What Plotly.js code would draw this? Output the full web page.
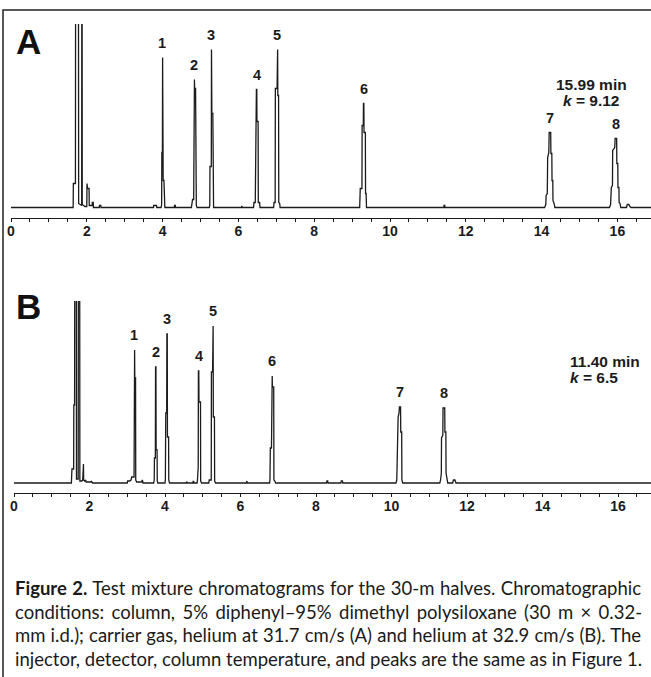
<!DOCTYPE html>
<html>
<head>
<meta charset="utf-8">
<script src="https://cdn.plot.ly/plotly-3.0.1.min.js"></script>
<style>
  html, body { margin: 0; padding: 0; background: #fff; }
  #chart { width: 651px; height: 677px; }
</style>
</head>
<body>
<div id="chart"></div>
<script>
// ---------- Data ----------
// Panel A (helium at 31.7 cm/s): retention time (min) and detector signal (arb. units)
const timeA = [0,1.64,1.645,1.70,1.705,1.78,1.785,1.84,1.865,1.868,1.876,1.88,1.95,2.0,2.005,2.02,2.06,2.065,2.14,2.145,2.17,2.175,2.33,2.335,2.37,2.375,
  3.76,3.765,3.84,3.845,3.96,3.975,3.98,3.995,4.0,4.015,4.035,4.045,4.06,4.31,4.315,4.335,4.34,
  4.76,4.77,4.79,4.82,4.83,4.84,4.845,4.87,4.875,4.89,4.91,
  5.23,5.245,5.25,5.285,5.29,5.30,5.325,5.33,5.345,6.08,6.09,6.10,
  6.40,6.41,6.445,6.45,6.47,6.475,6.485,6.49,6.52,6.525,6.56,6.57,
  6.93,6.94,6.97,6.975,7.02,7.025,7.035,7.04,7.06,7.065,7.09,7.10,
  9.20,9.215,9.26,9.265,9.295,9.30,9.31,9.315,9.35,9.355,9.37,9.38,11.42,11.425,11.445,11.45,
  14.08,14.11,14.12,14.15,14.16,14.19,14.20,14.24,14.245,14.27,14.275,14.295,14.30,14.33,14.35,
  15.79,15.82,15.84,15.87,15.875,15.93,15.94,15.98,15.985,16.01,16.015,16.04,16.045,16.07,16.09,
  16.24,16.26,16.30,16.33,16.36,16.95];
const signalA = [0,0,24,24,240,240,4,2,2,240,240,3,1,1,24,19,19,2,2,5,5,0,0,2,2,0,
  0,2,2,0,0,3,55,55,150,27,27,2,0,0,2,2,0,
  0,2,8,8,128,128,119,119,5,2,0,
  0,2,41,41,158,94,94,2,0,0,1.5,0,
  0,5,5,50,50,118,118,86,86,5,5,0,
  0,5,5,119,119,158,158,112,112,5,4,0,
  0,19,19,82,82,104,104,75,75,14,14,0,0,2,2,0,
  0,3,12,14,50,55,75,75,54,54,27,27,7,4,0,
  0,3,20,22,57,60,69,69,44,44,20,20,5,4,0,
  0,3,3,1,0,0];

// Panel B (helium at 32.9 cm/s)
const timeB = [0,1.52,1.535,1.58,1.585,1.605,1.61,1.65,1.655,1.70,1.705,1.74,1.745,1.80,1.82,1.825,1.84,1.845,1.87,1.90,1.91,2.04,2.05,2.08,
  3.00,3.01,3.06,3.10,3.12,3.18,3.185,3.195,3.20,3.22,3.225,3.25,3.38,3.40,3.42,
  3.70,3.715,3.72,3.745,3.75,3.76,3.765,3.79,3.795,3.81,
  4.00,4.01,4.02,4.045,4.05,4.06,4.065,4.095,4.10,4.12,
  4.56,4.565,4.58,4.585,4.74,4.745,4.76,4.765,
  4.85,4.86,4.865,4.88,4.885,4.895,4.90,4.94,4.945,4.97,
  5.16,5.17,5.225,5.23,5.26,5.265,5.275,5.28,5.31,5.315,5.34,
  6.15,6.155,6.17,6.175,
  6.77,6.78,6.79,6.82,6.825,6.84,6.845,6.88,6.885,6.91,6.93,
  8.28,8.29,8.31,8.32,8.66,8.67,8.70,8.71,
  10.12,10.14,10.15,10.17,10.175,10.20,10.21,10.24,10.245,10.27,10.275,10.30,
  11.28,11.30,11.32,11.325,11.36,11.365,11.41,11.415,11.44,11.445,11.47,11.49,
  11.62,11.64,11.68,11.71,16.95];
const signalB = [0,0,14,14,78,78,240,240,4,4,240,240,2,2,3,19,19,3,2,3,1,1,2,0,
  0,2,2,3,6,6,133,133,105,105,3,1,1,3,0,
  0,3,25,25,116,116,33,33,2,0,
  0,3,70,70,149,149,46,46,3,0,
  0,1.5,1.5,0,0,1.5,1.5,0,
  0,3,16,16,112,112,81,81,2,0,
  0,3,3,111,111,157,157,66,66,2,0,
  0,2,2,0,
  0,3,35,35,107,107,96,96,3,2,0,
  0,2,2,0,0,2,2,0,
  0,3,23,25,66,70,76,76,51,51,3,0,
  0,3,10,45,48,75,75,51,51,10,5,0,
  0,3,3,0,0];

// Numbered peaks: apex time and apex signal
const peakNames = ['1','2','3','4','5','6','7','8'];
const peakTimeA = [3.995, 4.835, 5.29, 6.48, 7.03, 9.305, 14.22, 15.96];
const peakHeightA = [150, 128, 158, 118, 158, 104, 75, 69];
const peakTimeB = [3.19, 3.755, 4.055, 4.89, 5.27, 6.83, 10.225, 11.39];
const peakHeightB = [133, 116, 149, 112, 157, 107, 76, 75];

const tickValues = [0, 2, 4, 6, 8, 10, 12, 14, 16];
const lastPeakA = {time: '15.99 min', k: '9.12'};
const lastPeakB = {time: '11.40 min', k: '6.5'};

const captionLines = [
  '<b>Figure 2.</b> Test mixture chromatograms for the 30-m halves. Chromatographic',
  'conditions: column, 5% diphenyl–95% dimethyl polysiloxane (30 m × 0.32-',
  'mm i.d.); carrier gas, helium at 31.7 cm/s (A) and helium at 32.9 cm/s (B). The',
  'injector, detector, column temperature, and peaks are the same as in Figure 1.'
];

// ---------- Layout helpers ----------
const W = 651, H = 677;
const px = v => v / W;
const py = v => 1 - v / H;
const INK = '#1b1b1b';
const SANS = 'Liberation Sans, Arial, sans-serif';
const numFont = {family: SANS, size: 14.5, color: INK, weight: 'bold'};
const capFamily = 'Lato';
const capSize = 18.5;

function justify(line, target) {
  const c = document.createElement('canvas').getContext('2d');
  let width = 0;
  const parts = line.split(/(<b>.*?<\/b>)/);
  parts.forEach(p => {
    if (!p) return;
    const bold = p.startsWith('<b>');
    const t = p.replace(/<\/?b>/g, '');
    c.font = (bold ? 'bold ' : '') + capSize + 'px ' + capFamily;
    width += c.measureText(t).width;
  });
  const plain = line.replace(/<\/?b>/g, '');
  const spaces = (plain.match(/ /g) || []).length;
  let ws = spaces ? (target - width) / spaces : 0;
  if (ws < -2) ws = -2;
  return '<span style="word-spacing:' + ws.toFixed(2) + 'px">' + line + '</span>';
}

const traceStyle = {mode: 'lines', line: {color: INK, width: 1.3}, hoverinfo: 'skip', showlegend: false};
const traces = [
  Object.assign({x: timeA, y: signalA, xaxis: 'x', yaxis: 'y'}, traceStyle),
  Object.assign({x: timeB, y: signalB, xaxis: 'x2', yaxis: 'y2'}, traceStyle)
];

function xAxis(domainStart, pxPerMin) {
  return {
    domain: [px(domainStart), 1],
    range: [0, (W - domainStart) / pxPerMin],
    tickmode: 'array', tickvals: tickValues, ticktext: tickValues.map(String),
    ticks: 'outside', ticklen: 3, tickwidth: 1, tickcolor: INK,
    minor: {tick0: 0, dtick: 0.5, ticks: 'outside', ticklen: 3, tickwidth: 1, tickcolor: INK},
    showline: true, linecolor: INK, linewidth: 1.3,
    showgrid: false, zeroline: false, fixedrange: true,
    ticklabelstandoff: -3,
    tickfont: {family: SANS, size: 14, color: INK, weight: 'bold'}
  };
}

const annotations = [];
peakNames.forEach((n, i) => {
  annotations.push({xref: 'x', yref: 'y', x: peakTimeA[i], y: peakHeightA[i], text: n,
    showarrow: false, xanchor: 'center', yanchor: 'middle', yshift: 15, font: numFont});
  annotations.push({xref: 'x2', yref: 'y2', x: peakTimeB[i], y: peakHeightB[i], text: n,
    showarrow: false, xanchor: 'center', yanchor: 'middle', yshift: 15, font: numFont});
});
const bigFont = {family: SANS, size: 35, color: '#111', weight: 'bold'};
annotations.push({xref: 'paper', yref: 'paper', x: px(28.5), y: py(41), text: '<b>A</b>', showarrow: false, xanchor: 'center', yanchor: 'middle', font: bigFont});
annotations.push({xref: 'paper', yref: 'paper', x: px(28.5), y: py(306), text: '<b>B</b>', showarrow: false, xanchor: 'center', yanchor: 'middle', font: bigFont});
const noteFont = {family: SANS, size: 15.5, color: INK, weight: 'bold'};
annotations.push({xref: 'paper', yref: 'paper', x: px(591), y: py(84), text: lastPeakA.time, showarrow: false, xanchor: 'center', yanchor: 'middle', font: noteFont});
annotations.push({xref: 'paper', yref: 'paper', x: px(591), y: py(100), text: '<i>k</i> = ' + lastPeakA.k, showarrow: false, xanchor: 'center', yanchor: 'middle', font: noteFont});
annotations.push({xref: 'paper', yref: 'paper', x: px(568), y: py(361), text: lastPeakB.time, showarrow: false, xanchor: 'left', yanchor: 'middle', font: noteFont});
annotations.push({xref: 'paper', yref: 'paper', x: px(568), y: py(377), text: '<i>k</i> = ' + lastPeakB.k, showarrow: false, xanchor: 'left', yanchor: 'middle', font: noteFont});

const capY = [588, 611.5, 635, 658.5];
captionLines.forEach((t, i) => {
  annotations.push({xref: 'paper', yref: 'paper', x: px(13), y: py(capY[i]), xanchor: 'left', yanchor: 'middle',
    text: justify(t, 627), showarrow: false, font: {family: capFamily, size: capSize, color: '#1a1a1a'}});
});

const layout = {
  width: W, height: H,
  margin: {l: 0, r: 0, t: 0, b: 0, pad: 0},
  paper_bgcolor: '#fff', plot_bgcolor: 'rgba(0,0,0,0)',
  showlegend: false,
  xaxis: Object.assign(xAxis(11, 37.9), {anchor: 'y'}),
  yaxis: {domain: [py(218), py(24)], range: [-10.5, 183.5], visible: false, fixedrange: true},
  xaxis2: Object.assign(xAxis(14, 37.75), {anchor: 'y2'}),
  yaxis2: {domain: [py(492.5), py(301)], range: [-9.5, 182], visible: false, fixedrange: true},
  shapes: [
    {type: 'rect', xref: 'paper', yref: 'paper', layer: 'above', x0: px(3), x1: px(700), y0: py(720), y1: py(10),
     fillcolor: 'rgba(0,0,0,0)', line: {color: '#222', width: 1.5}}
  ],
  annotations: annotations
};

Plotly.newPlot('chart', traces, layout, {staticPlot: true, displayModeBar: false}).then(gd => {
  const n = document.querySelectorAll('.shapelayer path').length;
  const p = document.querySelector('.shapelayer path');
  console.log('shapes', n, p ? p.getAttribute('d') : 'none');
});
</script>
</body>
</html>
